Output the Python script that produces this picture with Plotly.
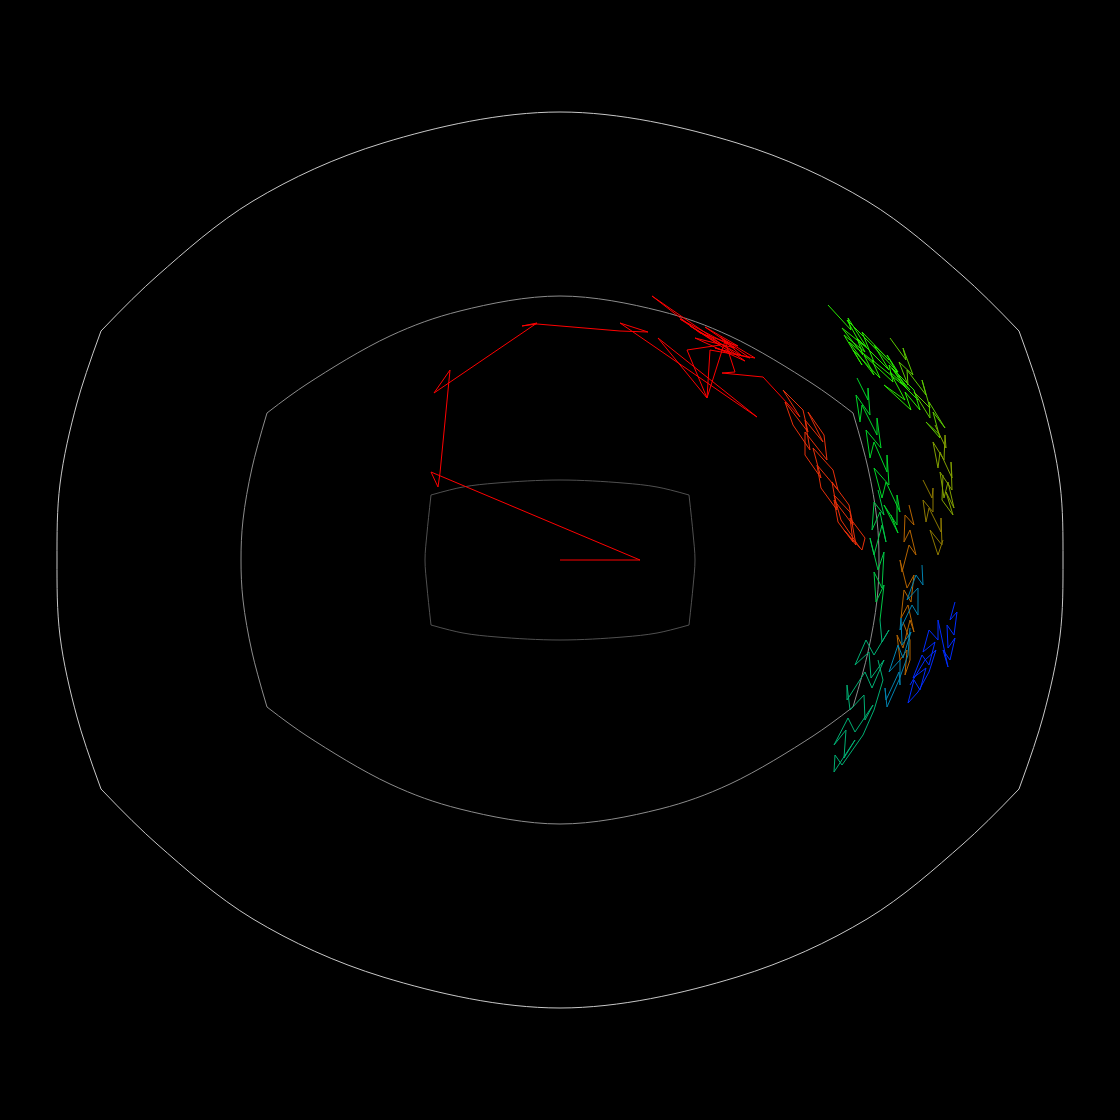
import plotly.graph_objects as go

# ---------- reference outlines (centred units, y up); each outline = 4 arcs split at its corners ----------
N = None
outer_x = [-459, -483, -500, -503, -500, -483, -459, N,
           -459, -403, -307, -177, 0, 177, 307, 403, 459, N,
           459, 483, 500, 503, 500, 483, 459, N,
           459, 403, 307, 177, 0, -177, -307, -403, -459]
outer_y = [-229, -157, -76, 0, 76, 157, 229, N,
           229, 284, 359, 417, 448, 417, 359, 284, 229, N,
           229, 157, 76, 0, -76, -157, -229, N,
           -229, -284, -359, -417, -448, -417, -359, -284, -229]

middle_x = [-293, -308, -317, -319, -317, -308, -293, N,
            -293, -253, -170, -100, 0, 100, 170, 253, 293, N,
            293, 308, 317, 319, 317, 308, 293, N,
            293, 253, 170, 100, 0, -100, -170, -253, -293]
middle_y = [-147, -92, -40, 0, 40, 92, 147, N,
            147, 176, 224, 249, 264, 249, 224, 176, 147, N,
            147, 92, 40, 0, -40, -92, -147, N,
            -147, -176, -224, -249, -264, -249, -224, -176, -147]

inner_x = [-129, -133, -135, -133, -129, N,
           -129, -97, -63, 0, 63, 97, 129, N,
           129, 133, 135, 133, 129, N,
           129, 97, 63, 0, -63, -97, -129]
inner_y = [-65, -27, 0, 27, 65, N,
           65, 73, 77, 80, 77, 73, 65, N,
           65, 27, 0, -27, -65, N,
           -65, -73, -77, -80, -77, -73, -65]

# ---------- walk segments ----------
red_x = [0, 80, -129, -122, -120, -110, -126, -23, -38, -23, 60, 88, 60, 197, 98, 147, 127, 160, 120, 175,
         135, 185, 150, 92, 140, 178, 145, 190, 155, 170, 130, 182, 160, 195, 150, 147, 165, 175, 162, 203, 240]
red_y = [0, 0, 88, 73, 87, 190, 167, 237, 234, 236, 229, 228, 237, 143, 222, 162, 210, 215, 241, 212,
         222, 199, 224, 264, 227, 214, 233, 202, 212, 208, 234, 204, 223, 202, 210, 162, 219, 188, 187, 183, 143]

orange_red_x = [240, 223, 243, 248, 225, 233, 250, 245, 263, 248, 264, 267, 245, 245, 261, 253, 273, 278,
                257, 261, 277, 272, 289, 293, 274, 278, 293, 290, 305, 302, 284, 296, 290, 274, 281, 300]
orange_red_y = [143, 170, 150, 128, 158, 135, 110, 140, 118, 148, 125, 100, 128, 105, 82, 112, 90, 70,
                95, 72, 50, 78, 55, 35, 60, 38, 18, 42, 22, 10, 30, 15, 48, 65, 40, 12]

green_x = [268, 291, 288, 307, 282, 303, 297, 329, 314, 329, 302, 314, 289, 314, 304, 333, 329, 350, 330,
           345, 324, 351, 345, 360, 354, 332, 343, 312, 320, 293, 302, 284, 305, 287, 307, 338, 327, 346, 358, 340]
green_y = [255, 230, 242, 212, 232, 205, 222, 190, 215, 200, 228, 198, 218, 185, 205, 178, 195, 170, 188,
           160, 175, 150, 168, 150, 170, 192, 175, 200, 182, 210, 195, 225, 208, 240, 220, 188, 205, 172, 160, 178]

yellow_green_x = [330, 346, 343, 353, 339, 348, 347, 366, 362, 370, 354, 370, 369, 385, 373, 380, 366, 380]
yellow_green_y = [222, 200, 212, 185, 198, 175, 190, 165, 180, 152, 168, 142, 158, 132, 148, 122, 138, 125]

olive_x = [375, 386, 385, 384, 373, 378, 380, 392, 391, 392, 380, 384, 388, 394, 386, 393, 382, 383]
olive_y = [135, 112, 125, 100, 118, 92, 108, 82, 98, 70, 88, 62, 78, 52, 68, 45, 60, 85]

mid_green_x = [297, 308, 308, 310, 296, 300, 302, 317, 317, 321, 306, 310, 314, 327, 327, 329, 314, 322,
               326, 340, 337, 337, 324, 338, 331]
mid_green_y = [182, 160, 172, 145, 165, 138, 155, 125, 142, 112, 130, 102, 118, 88, 105, 75, 92, 62,
               78, 48, 65, 35, 55, 27, 45]

teal_green_x = [318, 324, 314, 312, 320, 326, 322, 314, 310, 318, 324, 322, 314, 316, 324, 320]
teal_green_y = [70, 45, 58, 30, 48, 18, 35, 5, 22, -10, 8, -28, -12, -42, -25, -60]

teal_x = [320, 322, 329, 314, 306, 295, 309, 311, 324, 312, 305, 287, 287, 290, 304, 305, 313, 295, 288,
          274, 286, 284, 295, 274, 275, 282, 303, 314, 323, 318]
teal_y = [-60, -82, -70, -95, -80, -105, -92, -118, -100, -128, -112, -140, -125, -150, -135, -160, -145,
          -172, -158, -185, -170, -198, -180, -212, -195, -205, -175, -150, -120, -100]

brown_x = [349, 354, 345, 344, 350, 356, 349, 342, 340, 347, 354, 351, 344, 341, 348, 354, 350, 343, 337,
           340, 347, 345, 350, 350, 343]
brown_y = [55, 35, 45, 18, 30, 5, 15, -12, 0, -28, -15, -42, -30, -58, -45, -72, -60, -88, -75,
           -100, -90, -115, -100, -80, -62]

dark_olive_x = [363, 372, 373, 373, 363, 366, 369, 381, 381, 382, 370, 378, 383]
dark_olive_y = [80, 62, 72, 48, 60, 38, 52, 28, 42, 15, 30, 5, 20]

teal_blue_x = [362, 363, 356, 347, 358, 358, 352, 340, 341, 342, 351, 343, 338, 329, 340, 340, 339, 326,
               325, 327, 339, 348, 350]
teal_blue_y = [-5, -25, -15, -40, -28, -55, -45, -70, -58, -85, -72, -98, -85, -112, -100, -125, -112,
               -140, -128, -147, -120, -95, -68]

blue_x = [395, 390, 397, 394, 387, 388, 395, 390, 383, 388, 378, 378, 369, 363, 375, 369, 362, 353, 366,
          360, 354, 348, 358, 369, 376, 365, 350]
blue_y = [-42, -60, -52, -75, -65, -88, -78, -100, -90, -107, -60, -80, -70, -92, -82, -105, -95, -118,
          -108, -130, -120, -143, -132, -112, -90, -100, -125]

segments = [
    (red_x, red_y, "rgb(255,0,0)"),
    (orange_red_x, orange_red_y, "rgb(232,48,10)"),
    (green_x, green_y, "rgb(40,235,0)"),
    (yellow_green_x, yellow_green_y, "rgb(90,200,0)"),
    (olive_x, olive_y, "rgb(130,160,0)"),
    (mid_green_x, mid_green_y, "rgb(0,215,40)"),
    (teal_green_x, teal_green_y, "rgb(0,200,70)"),
    (teal_x, teal_y, "rgb(0,175,115)"),
    (brown_x, brown_y, "rgb(180,100,0)"),
    (dark_olive_x, dark_olive_y, "rgb(140,120,0)"),
    (teal_blue_x, teal_blue_y, "rgb(0,130,175)"),
    (blue_x, blue_y, "rgb(0,45,255)"),
]

fig = go.Figure()
for xs, ys, col in [(outer_x, outer_y, "rgb(200,200,200)"),
                    (middle_x, middle_y, "rgb(140,140,140)"),
                    (inner_x, inner_y, "rgb(80,80,80)")]:
    fig.add_trace(go.Scatter(x=xs, y=ys, mode="lines", connectgaps=False,
                             line=dict(color=col, width=1, shape="spline", smoothing=1),
                             hoverinfo="skip"))
for xs, ys, col in segments:
    fig.add_trace(go.Scatter(x=xs, y=ys, mode="lines", line=dict(color=col, width=1)))

fig.update_layout(
    width=1120, height=1120,
    margin=dict(l=0, r=0, t=0, b=0),
    paper_bgcolor="black", plot_bgcolor="black",
    showlegend=False,
    xaxis=dict(range=[-560, 560], visible=False, showgrid=False, zeroline=False),
    yaxis=dict(range=[-560, 560], visible=False, showgrid=False, zeroline=False),
)
fig.write_html("out.html")
